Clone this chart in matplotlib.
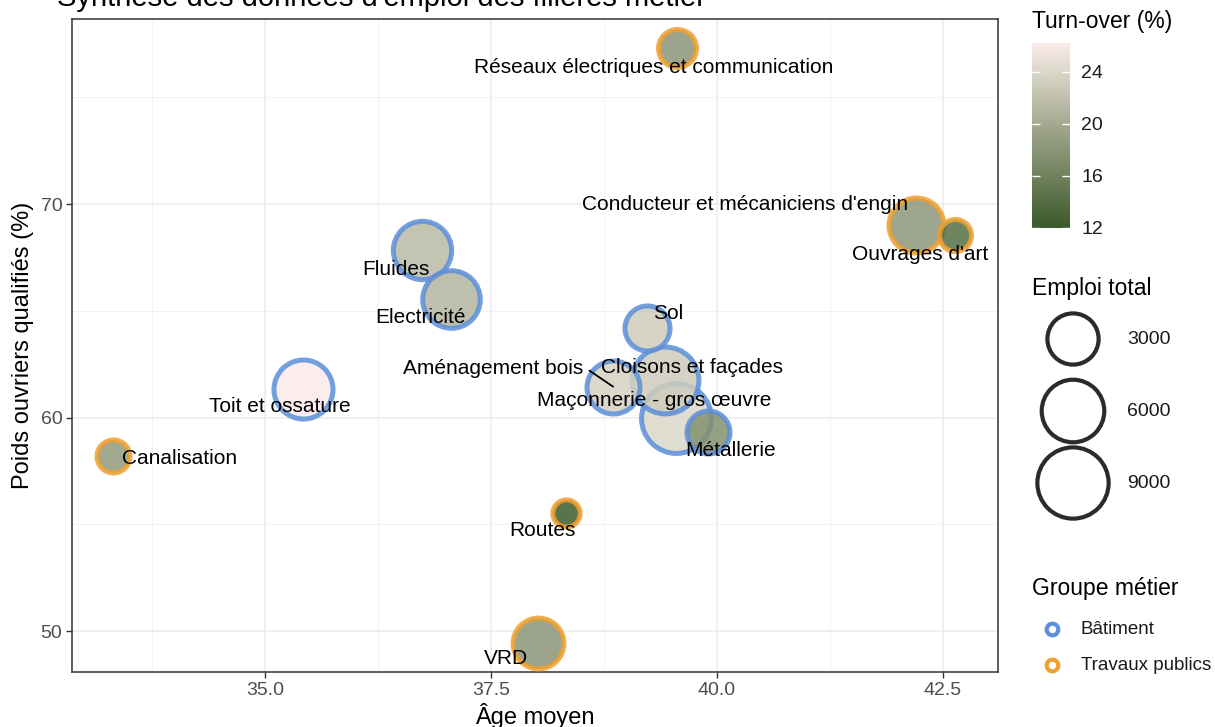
import numpy as np
import matplotlib
matplotlib.use("Agg")
import matplotlib.pyplot as plt
from matplotlib.colors import LinearSegmentedColormap, Normalize
from matplotlib.colorbar import ColorbarBase

plt.rcParams['font.family'] = ['Liberation Sans', 'DejaVu Sans']

# Data
metiers = ['Réseaux électriques et communication', "Conducteur et mécaniciens d'engin",
           "Ouvrages d'art", 'Fluides', 'Electricité', 'Toit et ossature', 'Sol',
           'Aménagement bois', 'Cloisons et façades', 'Maçonnerie - gros œuvre',
           'Métallerie', 'Canalisation', 'Routes', 'VRD']
groupe = ['TP', 'TP', 'TP', 'BAT', 'BAT', 'BAT', 'BAT',
          'BAT', 'BAT', 'BAT', 'BAT', 'TP', 'TP', 'TP']
age_moyen = [39.56, 42.20, 42.63, 36.74, 37.06, 35.42, 39.23,
             38.85, 39.42, 39.55, 39.90, 33.32, 38.33, 38.02]
poids_qualif = [77.3, 69.0, 68.55, 67.85, 65.55, 61.35, 64.2,
                61.45, 61.75, 60.0, 59.3, 58.2, 55.55, 49.45]
emploi = [900, 4100, 330, 5000, 4800, 5200, 1950,
          3600, 7700, 8800, 1600, 400, 70, 3100]
turnover = [18.0, 18.2, 14.0, 21.5, 21.0, 26.2, 23.0,
            23.5, 23.0, 24.0, 17.5, 18.5, 12.0, 18.0]

size_breaks = [3000, 6000, 9000]
turn_ticks = [12, 16, 20, 24]
groupe_noms = {'BAT': 'Bâtiment', 'TP': 'Travaux publics'}
groupe_couleurs = {'BAT': '#5b8fd9', 'TP': '#efa02f'}

# label offsets (points) from each bubble, as placed in the original
label_off = {
    'Réseaux électriques et communication': (-17, -14),
    "Conducteur et mécaniciens d'engin": (-123, 15),
    "Ouvrages d'art": (-25, -14),
    'Fluides': (-19, -14),
    'Electricité': (-22, -13),
    'Toit et ossature': (-17, -13),
    'Sol': (15, 10),
    'Aménagement bois': (-86, 13),
    'Cloisons et façades': (20, 9),
    'Maçonnerie - gros œuvre': (-16, 12),
    'Métallerie': (16, -13),
    'Canalisation': (48, -2),
    'Routes': (-17, -13),
    'VRD': (-23, -11),
}
# leader segment start (points from bubble) for the repelled label
leader_off = {'Aménagement bois': (-17, 11.5)}

cmap = LinearSegmentedColormap.from_list(
    'turn', [(0.0, '#3c5a2b'), (0.56, '#a4a88f'), (0.85, '#dcd8ca'), (1.0, '#fbeaea')])
norm = Normalize(vmin=12, vmax=26.2)

EDGE_PT = 3.6


def marker_s(v):
    d_px = 28 + 0.5 * np.sqrt(v)
    return (0.72 * d_px - EDGE_PT) ** 2


fig = plt.figure(figsize=(12.15, 7.27), dpi=100)
ax = fig.add_axes([72 / 1215, 1 - 672 / 727, 926 / 1215, 653 / 727])

order = np.argsort(emploi)[::-1]
for k, i in enumerate(order):
    ax.scatter(age_moyen[i], poids_qualif[i], s=marker_s(emploi[i]),
               facecolor=cmap(norm(turnover[i])), edgecolor=groupe_couleurs[groupe[i]],
               linewidths=EDGE_PT, alpha=0.85, zorder=3 + k)

for i, name in enumerate(metiers):
    dx, dy = label_off[name]
    ax.annotate(name, (age_moyen[i], poids_qualif[i]), xytext=(dx, dy),
                textcoords='offset points', ha='center', va='center', fontsize=15,
                color='black', zorder=40)
    if name in leader_off:
        ax.annotate('', (age_moyen[i], poids_qualif[i]), xytext=leader_off[name],
                    textcoords='offset points', zorder=40,
                    arrowprops=dict(arrowstyle='-', color='black', lw=1.3,
                                    shrinkA=0, shrinkB=0))

ax.set_xlim(32.865, 43.108)
ax.set_ylim(48.08, 78.67)
ax.set_xticks([35.0, 37.5, 40.0, 42.5])
ax.set_xticklabels(['35.0', '37.5', '40.0', '42.5'])
ax.set_xticks([33.75, 36.25, 38.75, 41.25], minor=True)
ax.set_yticks([50, 60, 70])
ax.set_yticks([55, 65, 75], minor=True)
ax.grid(True, which='major', color='#ebebeb', lw=1.1, zorder=0)
ax.grid(True, which='minor', color='#f2f2f2', lw=0.7, zorder=0)
ax.set_axisbelow(True)
ax.tick_params(which='major', length=4, width=1, color='#333333',
               labelsize=14, labelcolor='#4d4d4d', pad=3)
ax.tick_params(which='minor', length=0)
for sp in ax.spines.values():
    sp.set_color('#333333')
    sp.set_linewidth(1.1)
ax.set_xlabel('Âge moyen', fontsize=17, color='black', labelpad=3)
ax.set_ylabel('Poids ouvriers qualifiés (%)', fontsize=17, color='black', labelpad=5)

fig.text(57 / 1215, 1 - 6 / 727, "Synthèse des données d'emploi des filières métier",
         fontsize=21, color='black', ha='left', va='baseline')

# colour bar legend
fig.text(1032 / 1215, 1 - 28 / 727, 'Turn-over (%)', fontsize=16.5, ha='left', va='baseline')
cax = fig.add_axes([1032 / 1215, 1 - 228 / 727, 38 / 1215, 185 / 727])
cb = ColorbarBase(cax, cmap=cmap, norm=norm, orientation='vertical')
cb.set_ticks(turn_ticks)
cb.outline.set_visible(False)
cax.tick_params(left=True, right=True, labelleft=False, labelright=True,
                direction='in', color='white', length=6, width=1,
                labelsize=14, labelcolor='#1a1a1a', pad=8)

# size and group legends
lax = fig.add_axes([0, 0, 1, 1])
lax.set_xlim(0, 1215)
lax.set_ylim(727, 0)
lax.axis('off')
lax.text(1032, 288, 'Emploi total', fontsize=16.5, ha='left', va='center')
for j, v in enumerate(size_breaks):
    yk = 339 + j * 72
    lax.scatter(1073, yk, s=(0.72 * (28 + 0.5 * np.sqrt(v)) - 3.0) ** 2,
                facecolor='none', edgecolor='#2b2b2b', linewidths=3.0)
    lax.text(1127, yk, str(v), fontsize=14, ha='left', va='center', color='#1a1a1a')

lax.text(1032, 588, 'Groupe métier', fontsize=16.5, ha='left', va='center')
for j, g in enumerate(['BAT', 'TP']):
    yk = 629 + j * 36
    lax.scatter(1052, yk, s=70, facecolor='white', edgecolor=groupe_couleurs[g],
                linewidths=3.0)
    lax.text(1081, yk, groupe_noms[g], fontsize=13.5, ha='left', va='center', color='#1a1a1a')

fig.savefig('out.png', dpi=100)
